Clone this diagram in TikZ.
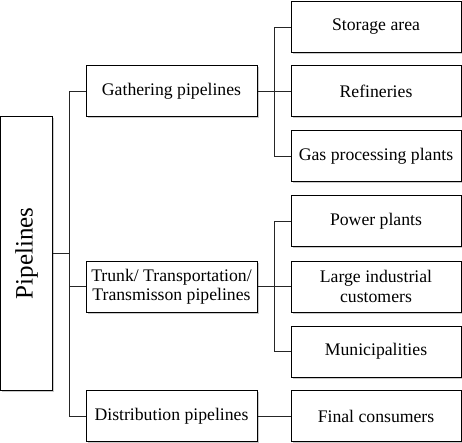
\documentclass[tikz,border=0pt]{standalone}
\usepackage{fontspec}
\setmainfont{Liberation Serif}
\usetikzlibrary{shadows}
\begin{document}
\begin{tikzpicture}[x=1pt,y=-1pt,
  box/.style={draw=black, line width=1pt, fill=white, rectangle, inner sep=2pt,
    align=center, font=\fontsize{17.7}{19.5}\selectfont,
    drop shadow={shadow xshift=1.5pt, shadow yshift=-1.5pt, opacity=0.35, fill=black!60}},
  mid/.style={box, minimum width=171pt, minimum height=51pt},
  leaf/.style={box, minimum width=170pt, minimum height=51pt},
  conn/.style={draw=black!85, line width=0.9pt}]
\useasboundingbox (0,0) rectangle (462,443);
\node[box, minimum width=52pt, minimum height=273pt] (root) at (26.5,253.5)
  {\rotatebox{90}{\fontsize{25}{30}\selectfont Pipelines}};
\node[mid] (gath) at (171.5,91.5) {Gathering pipelines};
\node[mid] (trunk) at (171.5,286.5) {Trunk/ Transportation/\\Transmisson pipelines};
\node[mid] (dist) at (171.5,416) {Distribution pipelines};
\node[leaf] (stor) at (376,27) {Storage area};
\node[leaf] (ref) at (376,91.5) {Refineries};
\node[leaf] (gas) at (376,156) {Gas processing plants};
\node[leaf] (pow) at (376,221) {Power plants};
\node[leaf] (large) at (376,286.5) {Large industrial\\customers};
\node[leaf] (mun) at (376,351.5) {Municipalities};
\node[leaf] (fin) at (376,416) {Final consumers};
\coordinate (busA) at (69,0);
\coordinate (busB) at (274,0);
\draw[conn] (gath.west) -- (gath.west -| busA) |- (dist.west);
\draw[conn] (root.east) -- (root.east -| busA);
\draw[conn] (trunk.west) -- (trunk.west -| busA);
\draw[conn] (stor.west) -- (stor.west -| busB) |- (gas.west);
\draw[conn] (gath.east) -- (ref.west);
\draw[conn] (pow.west) -- (pow.west -| busB) |- (mun.west);
\draw[conn] (trunk.east) -- (large.west);
\draw[conn] (dist.east) -- (fin.west);
\end{tikzpicture}
\end{document}
